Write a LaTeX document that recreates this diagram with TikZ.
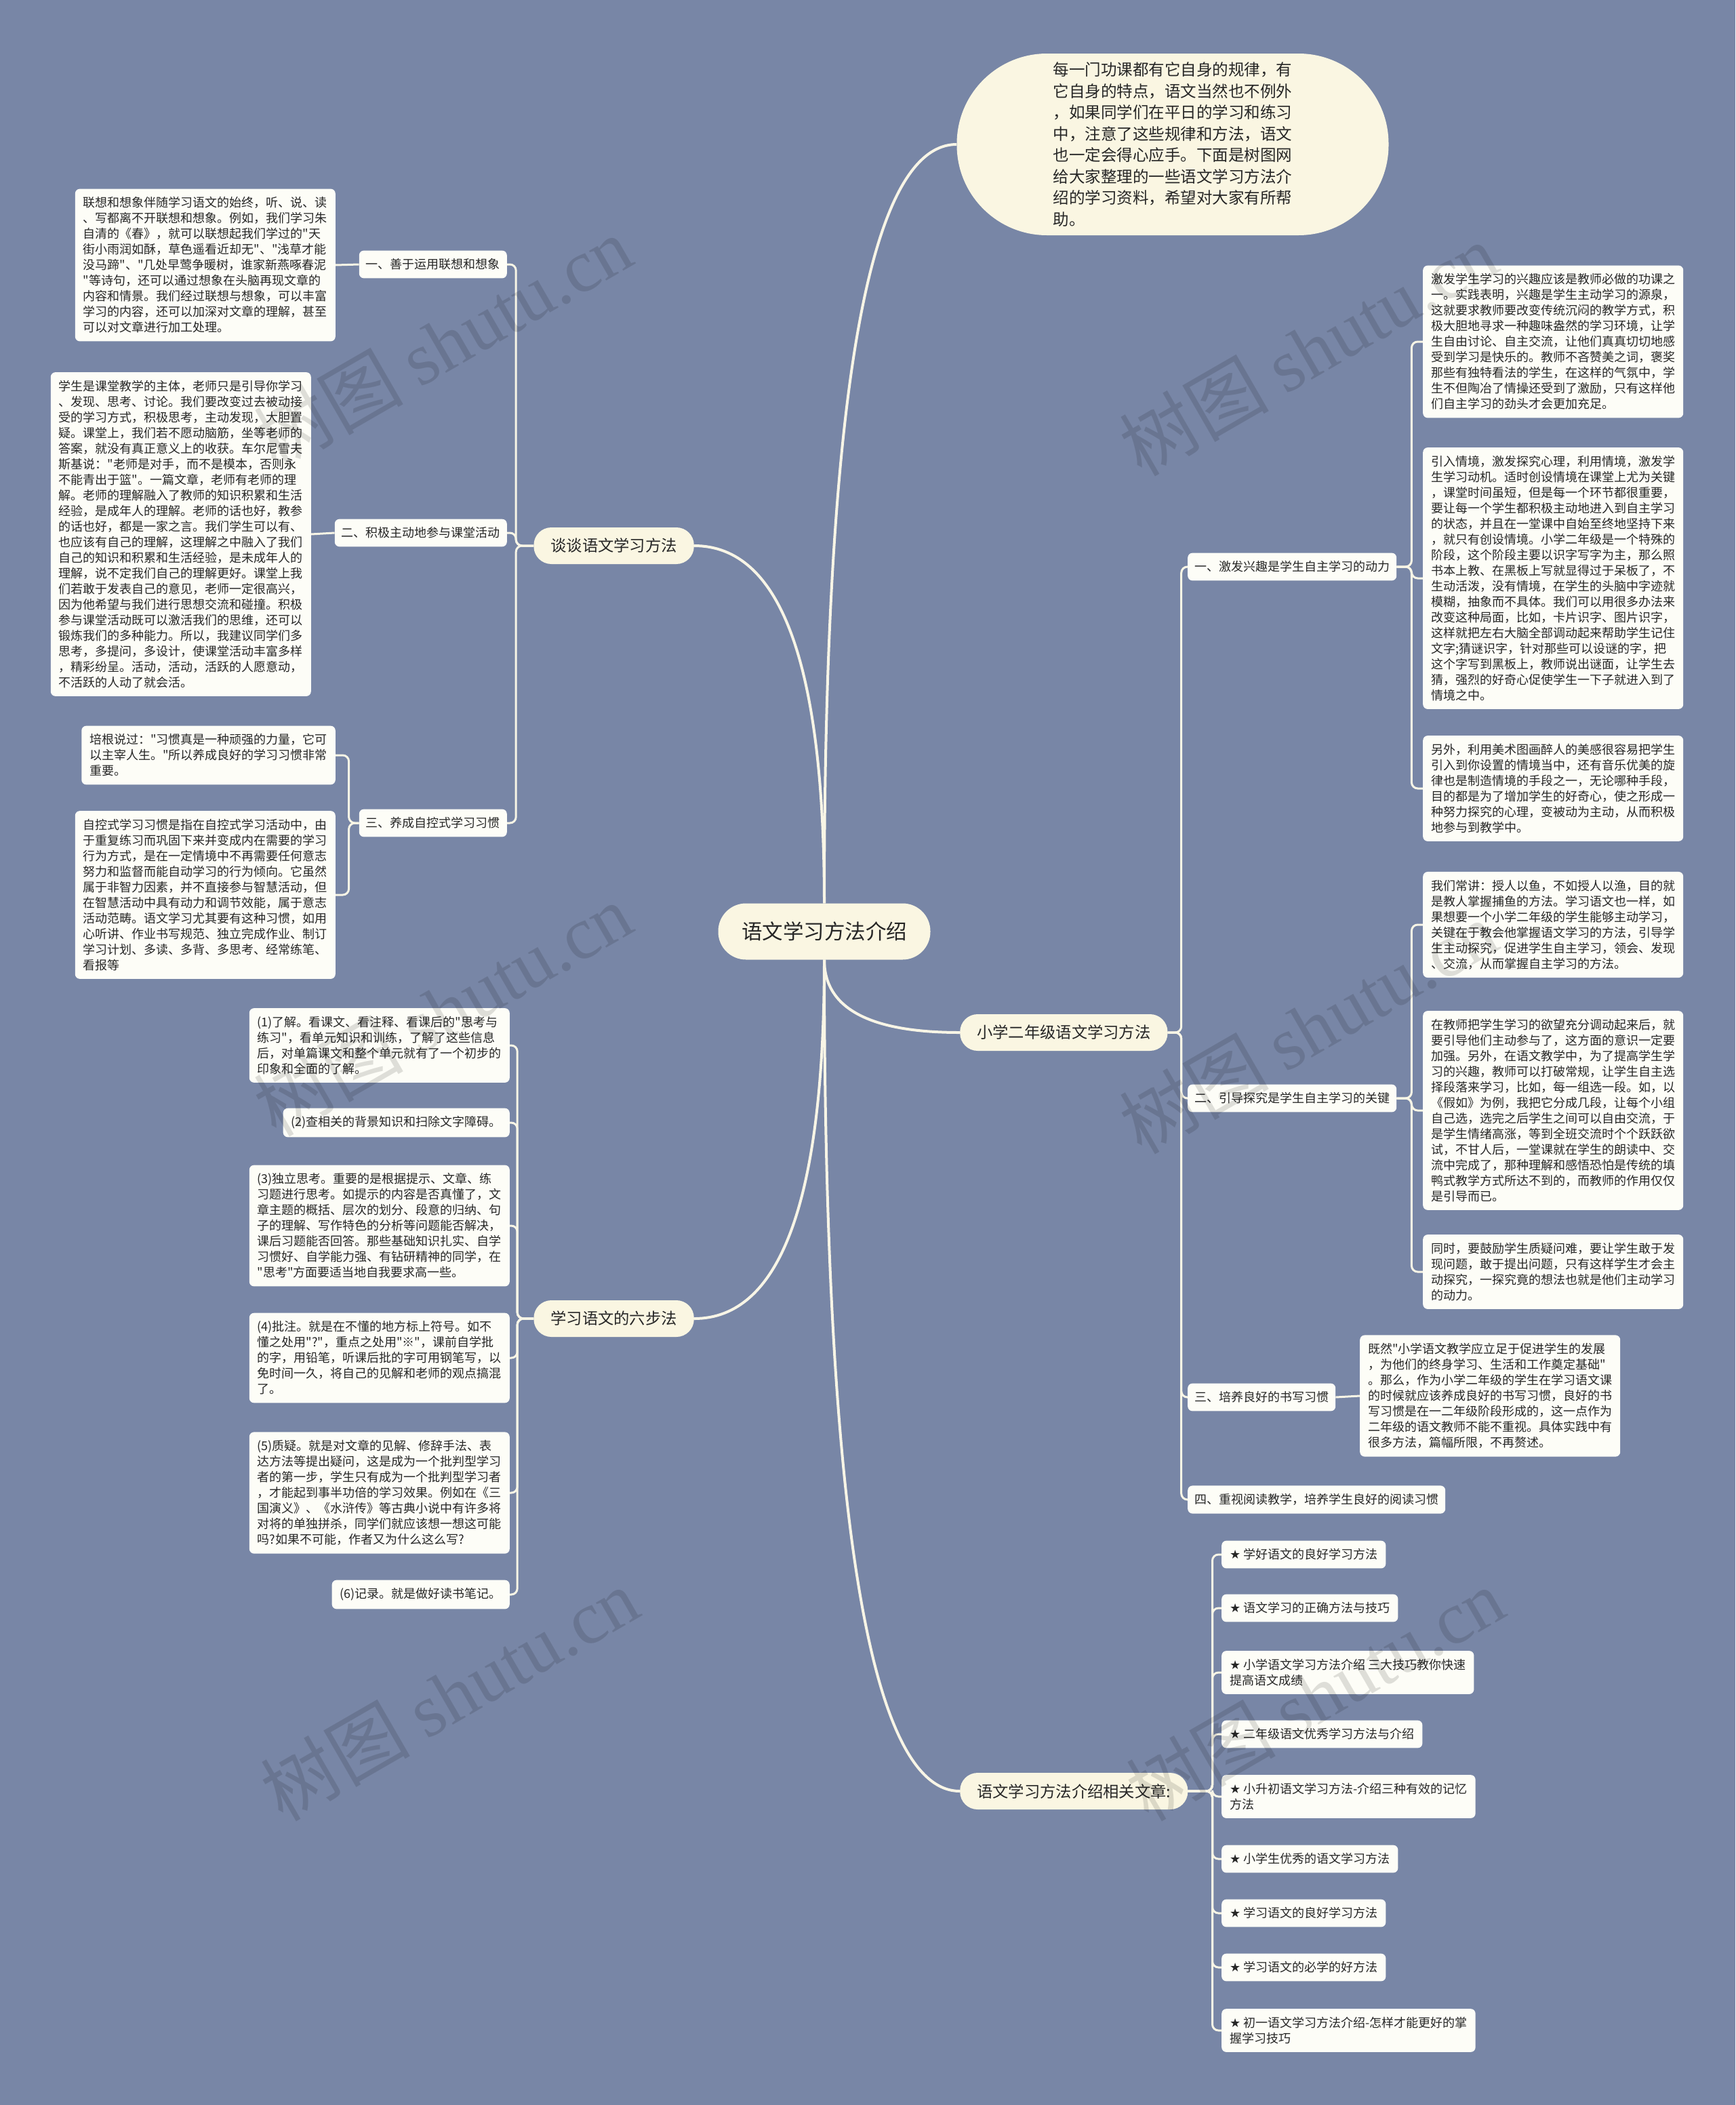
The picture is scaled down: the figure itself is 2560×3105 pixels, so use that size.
\documentclass[tikz,border=0pt]{standalone}
\usepackage{fontspec}
\newfontfamily\cjkf{Noto Sans CJK SC}
\newfontfamily\symf{DejaVu Sans}
\newfontfamily\wmf{Liberation Serif}
\usetikzlibrary{calc}
\definecolor{bgc}{RGB}{120,134,166}
\definecolor{creamc}{RGB}{250,246,226}
\definecolor{leafc}{RGB}{253,253,247}
\definecolor{linec}{RGB}{248,245,230}
\definecolor{txtc}{RGB}{38,38,38}
\tikzset{
  leafbox/.style={fill=leafc, rounded corners=7pt, align=left, inner xsep=12pt, inner ysep=12pt, font=\cjkf\fontsize{18}{23}\selectfont, text=txtc},
  labbox/.style={fill=leafc, rounded corners=7pt, inner xsep=10pt, inner ysep=12pt, font=\cjkf\fontsize{18}{23}\selectfont, text=txtc},
  mainbox/.style={fill=creamc, rounded corners=26pt, inner xsep=25pt, minimum height=54pt, font=\cjkf\fontsize{23.3}{28}\selectfont, text=txtc},
  cenbox/.style={fill=creamc, rounded corners=41pt, minimum width=313pt, minimum height=83pt, font=\cjkf\fontsize{30.5}{36}\selectfont, text=txtc},
  introbox/.style={fill=creamc, rounded corners=133pt, minimum width=637pt, minimum height=268pt, align=left, font=\cjkf\fontsize{23.5}{31.5}\selectfont, text=txtc},
  conn/.style={draw=linec, line width=3pt, rounded corners=9pt},
  mconn/.style={draw=linec, line width=4pt},
  wmark/.style={rotate=30, text=black, opacity=0.12, font=\cjkf\fontsize{110}{120}\selectfont},
}
\newcommand{\st}{{\symf ★}}
\begin{document}
\begin{tikzpicture}[x=1pt,y=-1pt]
\useasboundingbox (0,0) rectangle (2560,3105);
\fill[bgc] (0,0) rectangle (2560,3105);

% central and main branches
\node[cenbox] (cen) at (1216,1374) {语文学习方法介绍};
\node[introbox] (intro) at (1730,213) {每一门功课都有它自身的规律，有\\它自身的特点，语文当然也不例外\\，如果同学们在平日的学习和练习\\中，注意了这些规律和方法，语文\\也一定会得心应手。下面是树图网\\给大家整理的一些语文学习方法介\\绍的学习资料，希望对大家有所帮\\助。};
\node[mainbox, anchor=east] (tan) at (1024,805) {谈谈语文学习方法};
\node[mainbox, anchor=west] (xiao) at (1416,1523) {小学二年级语文学习方法};
\node[mainbox, anchor=east] (liu) at (1024,1945) {学习语文的六步法};
\node[mainbox, anchor=west] (rel) at (1416,2642) {语文学习方法介绍相关文章:};

% left labels
\node[labbox, anchor=east] (l1) at (748,390) {一、善于运用联想和想象};
\node[labbox, anchor=east] (l2) at (748,786) {二、积极主动地参与课堂活动};
\node[labbox, anchor=east] (l3) at (748,1214) {三、养成自控式学习习惯};

\node[leafbox, anchor=east] (t1) at (495,391) {联想和想象伴随学习语文的始终，听、说、读\\、写都离不开联想和想象。例如，我们学习朱\\自清的《春》，就可以联想起我们学过的"天\\街小雨润如酥，草色遥看近却无"、"浅草才能\\没马蹄"、"几处早莺争暖树，谁家新燕啄春泥\\"等诗句，还可以通过想象在头脑再现文章的\\内容和情景。我们经过联想与想象，可以丰富\\学习的内容，还可以加深对文章的理解，甚至\\可以对文章进行加工处理。};
\node[leafbox, anchor=east] (t2) at (459,788) {学生是课堂教学的主体，老师只是引导你学习\\、发现、思考、讨论。我们要改变过去被动接\\受的学习方式，积极思考，主动发现，大胆置\\疑。课堂上，我们若不愿动脑筋，坐等老师的\\答案，就没有真正意义上的收获。车尔尼雪夫\\斯基说："老师是对手，而不是模本，否则永\\不能青出于篮"。一篇文章，老师有老师的理\\解。老师的理解融入了教师的知识积累和生活\\经验，是成年人的理解。老师的话也好，教参\\的话也好，都是一家之言。我们学生可以有、\\也应该有自己的理解，这理解之中融入了我们\\自己的知识和积累和生活经验，是未成年人的\\理解，说不定我们自己的理解更好。课堂上我\\们若敢于发表自己的意见，老师一定很高兴，\\因为他希望与我们进行思想交流和碰撞。积极\\参与课堂活动既可以激活我们的思维，还可以\\锻炼我们的多种能力。所以，我建议同学们多\\思考，多提问，多设计，使课堂活动丰富多样\\，精彩纷呈。活动，活动，活跃的人愿意动，\\不活跃的人动了就会活。};
\node[leafbox, anchor=east] (t3a) at (495,1114) {培根说过："习惯真是一种顽强的力量，它可\\以主宰人生。"所以养成良好的学习习惯非常\\重要。};
\node[leafbox, anchor=east] (t3b) at (495,1320) {自控式学习习惯是指在自控式学习活动中，由\\于重复练习而巩固下来并变成内在需要的学习\\行为方式，是在一定情境中不再需要任何意志\\努力和监督而能自动学习的行为倾向。它虽然\\属于非智力因素，并不直接参与智慧活动，但\\在智慧活动中具有动力和调节效能，属于意志\\活动范畴。语文学习尤其要有这种习惯，如用\\心听讲、作业书写规范、独立完成作业、制订\\学习计划、多读、多背、多思考、经常练笔、\\看报等};

% six steps
\node[leafbox, anchor=east] (s1) at (752,1542) {(1)了解。看课文、看注释、看课后的"思考与\\练习"，看单元知识和训练，了解了这些信息\\后，对单篇课文和整个单元就有了一个初步的\\印象和全面的了解。};
\node[leafbox, anchor=east] (s2) at (752,1656) {(2)查相关的背景知识和扫除文字障碍。};
\node[leafbox, anchor=east] (s3) at (752,1808) {(3)独立思考。重要的是根据提示、文章、练\\习题进行思考。如提示的内容是否真懂了，文\\章主题的概括、层次的划分、段意的归纳、句\\子的理解、写作特色的分析等问题能否解决，\\课后习题能否回答。那些基础知识扎实、自学\\习惯好、自学能力强、有钻研精神的同学，在\\"思考"方面要适当地自我要求高一些。};
\node[leafbox, anchor=east] (s4) at (752,2003) {(4)批注。就是在不懂的地方标上符号。如不\\懂之处用"?"，重点之处用"※"，课前自学批\\的字，用铅笔，听课后批的字可用钢笔写，以\\免时间一久，将自己的见解和老师的观点搞混\\了。};
\node[leafbox, anchor=east] (s5) at (752,2202) {(5)质疑。就是对文章的见解、修辞手法、表\\达方法等提出疑问，这是成为一个批判型学习\\者的第一步，学生只有成为一个批判型学习者\\，才能起到事半功倍的学习效果。例如在《三\\国演义》、《水浒传》等古典小说中有许多将\\对将的单独拼杀，同学们就应该想一想这可能\\吗?如果不可能，作者又为什么这么写?};
\node[leafbox, anchor=east] (s6) at (752,2352) {(6)记录。就是做好读书笔记。};

% right labels
\node[labbox, anchor=west] (r1) at (1752,836) {一、激发兴趣是学生自主学习的动力};
\node[labbox, anchor=west] (r2) at (1752,1620) {二、引导探究是学生自主学习的关键};
\node[labbox, anchor=west] (r3) at (1752,2061) {三、培养良好的书写习惯};
\node[labbox, anchor=west] (r4) at (1752,2212) {四、重视阅读教学，培养学生良好的阅读习惯};

\node[leafbox, anchor=west] (r1a) at (2099,504) {激发学生学习的兴趣应该是教师必做的功课之\\一。实践表明，兴趣是学生主动学习的源泉，\\这就要求教师要改变传统沉闷的教学方式，积\\极大胆地寻求一种趣味盎然的学习环境，让学\\生自由讨论、自主交流，让他们真真切切地感\\受到学习是快乐的。教师不吝赞美之词，褒奖\\那些有独特看法的学生，在这样的气氛中，学\\生不但陶冶了情操还受到了激励，只有这样他\\们自主学习的劲头才会更加充足。};
\node[leafbox, anchor=west] (r1b) at (2099,853) {引入情境，激发探究心理，利用情境，激发学\\生学习动机。适时创设情境在课堂上尤为关键\\，课堂时间虽短，但是每一个环节都很重要，\\要让每一个学生都积极主动地进入到自主学习\\的状态，并且在一堂课中自始至终地坚持下来\\，就只有创设情境。小学二年级是一个特殊的\\阶段，这个阶段主要以识字写字为主，那么照\\书本上教、在黑板上写就显得过于呆板了，不\\生动活泼，没有情境，在学生的头脑中字迹就\\模糊，抽象而不具体。我们可以用很多办法来\\改变这种局面，比如，卡片识字、图片识字，\\这样就把左右大脑全部调动起来帮助学生记住\\文字;猜谜识字，针对那些可以设谜的字，把\\这个字写到黑板上，教师说出谜面，让学生去\\猜，强烈的好奇心促使学生一下子就进入到了\\情境之中。};
\node[leafbox, anchor=west] (r1c) at (2099,1163) {另外，利用美术图画醉人的美感很容易把学生\\引入到你设置的情境当中，还有音乐优美的旋\\律也是制造情境的手段之一，无论哪种手段，\\目的都是为了增加学生的好奇心，使之形成一\\种努力探究的心理，变被动为主动，从而积极\\地参与到教学中。};
\node[leafbox, anchor=west] (r2a) at (2099,1364) {我们常讲：授人以鱼，不如授人以渔，目的就\\是教人掌握捕鱼的方法。学习语文也一样，如\\果想要一个小学二年级的学生能够主动学习，\\关键在于教会他掌握语文学习的方法，引导学\\生主动探究，促进学生自主学习，领会、发现\\、交流，从而掌握自主学习的方法。};
\node[leafbox, anchor=west] (r2b) at (2099,1638) {在教师把学生学习的欲望充分调动起来后，就\\要引导他们主动参与了，这方面的意识一定要\\加强。另外，在语文教学中，为了提高学生学\\习的兴趣，教师可以打破常规，让学生自主选\\择段落来学习，比如，每一组选一段。如，以\\《假如》为例，我把它分成几段，让每个小组\\自己选，选完之后学生之间可以自由交流，于\\是学生情绪高涨，等到全班交流时个个跃跃欲\\试，不甘人后，一堂课就在学生的朗读中、交\\流中完成了，那种理解和感悟恐怕是传统的填\\鸭式教学方式所达不到的，而教师的作用仅仅\\是引导而已。};
\node[leafbox, anchor=west] (r2c) at (2099,1876) {同时，要鼓励学生质疑问难，要让学生敢于发\\现问题，敢于提出问题，只有这样学生才会主\\动探究，一探究竟的想法也就是他们主动学习\\的动力。};
\node[leafbox, anchor=west] (r3a) at (2006,2059) {既然"小学语文教学应立足于促进学生的发展\\，为他们的终身学习、生活和工作奠定基础"\\。那么，作为小学二年级的学生在学习语文课\\的时候就应该养成良好的书写习惯，良好的书\\写习惯是在一二年级阶段形成的，这一点作为\\二年级的语文教师不能不重视。具体实践中有\\很多方法，篇幅所限，不再赘述。};

% related articles
\node[leafbox, anchor=west] (a1) at (1802,2293) {\st\ 学好语文的良好学习方法};
\node[leafbox, anchor=west] (a2) at (1802,2372) {\st\ 语文学习的正确方法与技巧};
\node[leafbox, anchor=west] (a3) at (1802,2467) {\st\ 小学语文学习方法介绍 三大技巧教你快速\\提高语文成绩};
\node[leafbox, anchor=west] (a4) at (1802,2558) {\st\ 二年级语文优秀学习方法与介绍};
\node[leafbox, anchor=west] (a5) at (1802,2650) {\st\ 小升初语文学习方法-介绍三种有效的记忆\\方法};
\node[leafbox, anchor=west] (a6) at (1802,2742) {\st\ 小学生优秀的语文学习方法};
\node[leafbox, anchor=west] (a7) at (1802,2822) {\st\ 学习语文的良好学习方法};
\node[leafbox, anchor=west] (a8) at (1802,2902) {\st\ 学习语文的必学的好方法};
\node[leafbox, anchor=west] (a9) at (1802,2995) {\st\ 初一语文学习方法介绍-怎样才能更好的掌\\握学习技巧};

% main connectors (quadratic-like curves)
\coordinate (q1) at (cen.north |- intro.west);
\coordinate (q2) at (cen.north |- tan.east);
\coordinate (q3) at (cen.south |- xiao.west);
\coordinate (q4) at (cen.south |- liu.east);
\coordinate (q5) at (cen.south |- rel.west);
\draw[mconn] (cen.north) .. controls ($(cen.north)!0.667!(q1)$) and ($(intro.west)!0.667!(q1)$) .. (intro.west);
\draw[mconn] (cen.north) .. controls ($(cen.north)!0.667!(q2)$) and ($(tan.east)!0.667!(q2)$) .. (tan.east);
\draw[mconn] (cen.south) .. controls ($(cen.south)!0.667!(q3)$) and ($(xiao.west)!0.667!(q3)$) .. (xiao.west);
\draw[mconn] (cen.south) .. controls ($(cen.south)!0.667!(q4)$) and ($(liu.east)!0.667!(q4)$) .. (liu.east);
\draw[mconn] (cen.south) .. controls ($(cen.south)!0.667!(q5)$) and ($(rel.west)!0.667!(q5)$) .. (rel.west);

% branch brackets
\foreach \c in {l1,l2,l3} \draw[conn] (tan.west) -- ++(-26,0) |- (\c.east);
\draw[conn] (l1.west) -- (t1.east);
\draw[conn] (l2.west) -- (t2.east);
\foreach \c in {t3a,t3b} \draw[conn] (l3.west) -- ++(-15,0) |- (\c.east);
\foreach \c in {s1,s2,s3,s4,s5,s6} \draw[conn] (liu.west) -- ++(-24,0) |- (\c.east);
\foreach \c in {r1,r2,r3,r4} \draw[conn] (xiao.east) -- ++(20,0) |- (\c.west);
\foreach \c in {r1a,r1b,r1c} \draw[conn] (r1.east) -- ++(22,0) |- (\c.west);
\foreach \c in {r2a,r2b,r2c} \draw[conn] (r2.east) -- ++(22,0) |- (\c.west);
\draw[conn] (r3.east) -- (r3a.west);
\foreach \c in {a1,a2,a3,a4,a5,a6,a7,a8,a9} \draw[conn] (rel.east) -- ++(36,0) |- (\c.west);

% watermarks
\node[wmark] (w1) at (653,505) {树图 {\wmf shutu.cn}};
\node[wmark] (w2) at (1930,515) {树图 {\wmf shutu.cn}};
\node[wmark] (w3) at (653,1489) {树图 {\wmf shutu.cn}};
\node[wmark] (w4) at (1930,1515) {树图 {\wmf shutu.cn}};
\node[wmark] (w5) at (663,2499) {树图 {\wmf shutu.cn}};
\node[wmark] (w6) at (1940,2499) {树图 {\wmf shutu.cn}};
\end{tikzpicture}
\end{document}
